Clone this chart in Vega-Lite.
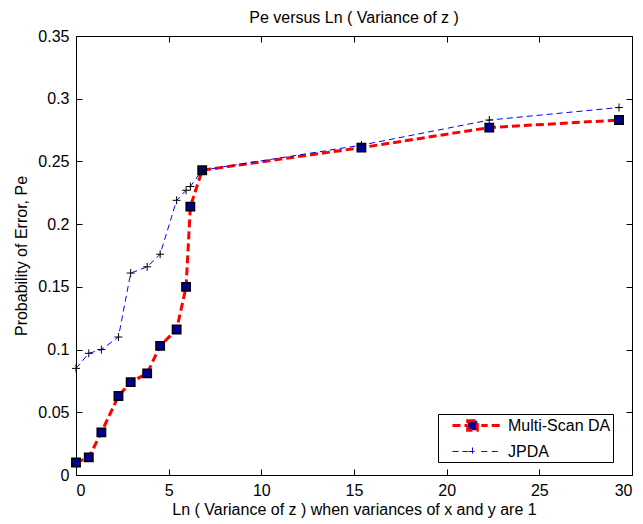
{
  "$schema": "https://vega.github.io/schema/vega-lite/v6.json",
  "width": 556,
  "height": 439,
  "autosize": {"type": "none"},
  "padding": {"left": 76, "top": 36, "right": 11, "bottom": 49},
  "background": "white",
  "title": {"text": "Pe versus Ln ( Variance of z )", "font": "Liberation Sans", "fontSize": 16, "fontWeight": "normal", "color": "black", "offset": 2},
  "config": {
    "view": {"stroke": "black", "strokeWidth": 1},
    "font": "Liberation Sans",
    "axis": {"grid": false, "domainColor": "black", "tickColor": "black", "tickWidth": 1, "labelColor": "black", "titleColor": "black", "labelFont": "Liberation Sans", "titleFont": "Liberation Sans", "labelFontSize": 16, "titleFontSize": 16, "titleFontWeight": "normal", "tickSize": -6, "labelPadding": 13}
  },
  "data": {"values": [
    {"series": "Multi-Scan DA", "x": 0, "y": 0.010},
    {"series": "Multi-Scan DA", "x": 0.69, "y": 0.014},
    {"series": "Multi-Scan DA", "x": 1.37, "y": 0.034},
    {"series": "Multi-Scan DA", "x": 2.29, "y": 0.063},
    {"series": "Multi-Scan DA", "x": 2.95, "y": 0.074},
    {"series": "Multi-Scan DA", "x": 3.84, "y": 0.081},
    {"series": "Multi-Scan DA", "x": 4.54, "y": 0.103},
    {"series": "Multi-Scan DA", "x": 5.43, "y": 0.116},
    {"series": "Multi-Scan DA", "x": 5.94, "y": 0.150},
    {"series": "Multi-Scan DA", "x": 6.17, "y": 0.214},
    {"series": "Multi-Scan DA", "x": 6.81, "y": 0.243},
    {"series": "Multi-Scan DA", "x": 15.4, "y": 0.261},
    {"series": "Multi-Scan DA", "x": 22.3, "y": 0.277},
    {"series": "Multi-Scan DA", "x": 29.3, "y": 0.283},
    {"series": "JPDA", "x": 0, "y": 0.085},
    {"series": "JPDA", "x": 0.69, "y": 0.097},
    {"series": "JPDA", "x": 1.37, "y": 0.100},
    {"series": "JPDA", "x": 2.29, "y": 0.110},
    {"series": "JPDA", "x": 2.95, "y": 0.161},
    {"series": "JPDA", "x": 3.84, "y": 0.166},
    {"series": "JPDA", "x": 4.54, "y": 0.176},
    {"series": "JPDA", "x": 5.43, "y": 0.219},
    {"series": "JPDA", "x": 5.94, "y": 0.227},
    {"series": "JPDA", "x": 6.17, "y": 0.230},
    {"series": "JPDA", "x": 6.81, "y": 0.243},
    {"series": "JPDA", "x": 15.4, "y": 0.263},
    {"series": "JPDA", "x": 22.3, "y": 0.283},
    {"series": "JPDA", "x": 29.3, "y": 0.293}
  ]},
  "layer": [
    {
      "mark": {"type": "line", "clip": false},
      "encoding": {
        "x": {"field": "x", "type": "quantitative", "scale": {"domain": [0, 30], "nice": false, "zero": false}, "axis": {"orient": "bottom", "values": [0, 5, 10, 15, 20, 25, 30], "title": "Ln ( Variance of z ) when variances of x and y are 1", "titlePadding": 3}},
        "y": {"field": "y", "type": "quantitative", "scale": {"domain": [0, 0.35], "nice": false, "zero": false}, "axis": {"orient": "left", "values": [0, 0.05, 0.1, 0.15, 0.2, 0.25, 0.3, 0.35], "format": ".2~f", "title": "Probability of Error, Pe", "titlePadding": 8}},
        "color": {"field": "series", "type": "nominal", "scale": {"domain": ["Multi-Scan DA", "JPDA"], "range": ["#ff0000", "#0000ff"]},
          "legend": {"title": null, "orient": "none", "legendX": 362, "legendY": 378, "direction": "vertical",
            "strokeColor": "black", "fillColor": "white", "padding": 2, "cornerRadius": 0,
            "labelFont": "Liberation Sans", "labelFontSize": 16, "labelColor": "black",
            "symbolSize": 256, "symbolOffset": 23, "labelOffset": 26, "rowPadding": 6, "symbolType": "stroke",
            "encode": {
              "labels": {"update": {"text": {"signal": "datum.value + '\u2002\u2002\u00a0'"}}},
              "symbols": {"update": {
              "shape": {"signal": "datum.value === 'JPDA' ? 'M-2.5,0H-0.6M1.1,0H1.9M2.4,0H3.4M-0.5,0H0.5M0,-0.5V0.5' : 'M-0.6,-0.6H0.6V0.6H-0.6ZM-2.5,0H-0.6M1.1,0H1.9M2.4,0H3.4'"},
              "fill": {"signal": "datum.value === 'JPDA' ? 'transparent' : '#000099'"},
              "strokeWidth": {"signal": "datum.value === 'JPDA' ? 1 : 2.5"},
              "strokeDash": {"value": []},
              "opacity": {"value": 1}
            }}}
          }},
        "strokeDash": {"field": "series", "type": "nominal", "scale": {"domain": ["Multi-Scan DA", "JPDA"], "range": [[8, 4], [6, 4]]}, "legend": null},
        "strokeWidth": {"field": "series", "type": "nominal", "scale": {"domain": ["Multi-Scan DA", "JPDA"], "range": [3, 1]}, "legend": null},
        "order": {"field": "x", "type": "quantitative"}
      }
    },
    {
      "transform": [{"filter": "datum.series === 'Multi-Scan DA'"}],
      "mark": {"type": "point", "shape": "square", "size": 70, "filled": true, "fill": "#000099", "stroke": "black", "strokeWidth": 1.5, "opacity": 1, "clip": false},
      "encoding": {
        "x": {"field": "x", "type": "quantitative", "axis": null},
        "y": {"field": "y", "type": "quantitative", "axis": null}
      }
    },
    {
      "transform": [{"filter": "datum.series === 'JPDA'"}],
      "mark": {"type": "point", "shape": "M-1,0H1M0,-1V1", "size": 64, "filled": false, "stroke": "black", "strokeWidth": 1, "opacity": 1, "clip": false},
      "encoding": {
        "x": {"field": "x", "type": "quantitative", "axis": null},
        "y": {"field": "y", "type": "quantitative", "axis": null}
      }
    },
    {
      "mark": {"type": "line", "opacity": 0},
      "encoding": {
        "x": {"field": "x", "type": "quantitative", "axis": {"orient": "top", "values": [0, 5, 10, 15, 20, 25, 30], "labels": false, "title": null, "domain": false, "ticks": true, "tickSize": 6, "offset": -6}},
        "y": {"field": "y", "type": "quantitative", "axis": {"orient": "right", "values": [0, 0.05, 0.1, 0.15, 0.2, 0.25, 0.3, 0.35], "labels": false, "title": null, "domain": false, "ticks": true, "tickSize": 6, "offset": -6}},
        "detail": {"field": "series"}
      }
    }
  ],
  "resolve": {"axis": {"x": "independent", "y": "independent"}}
}
